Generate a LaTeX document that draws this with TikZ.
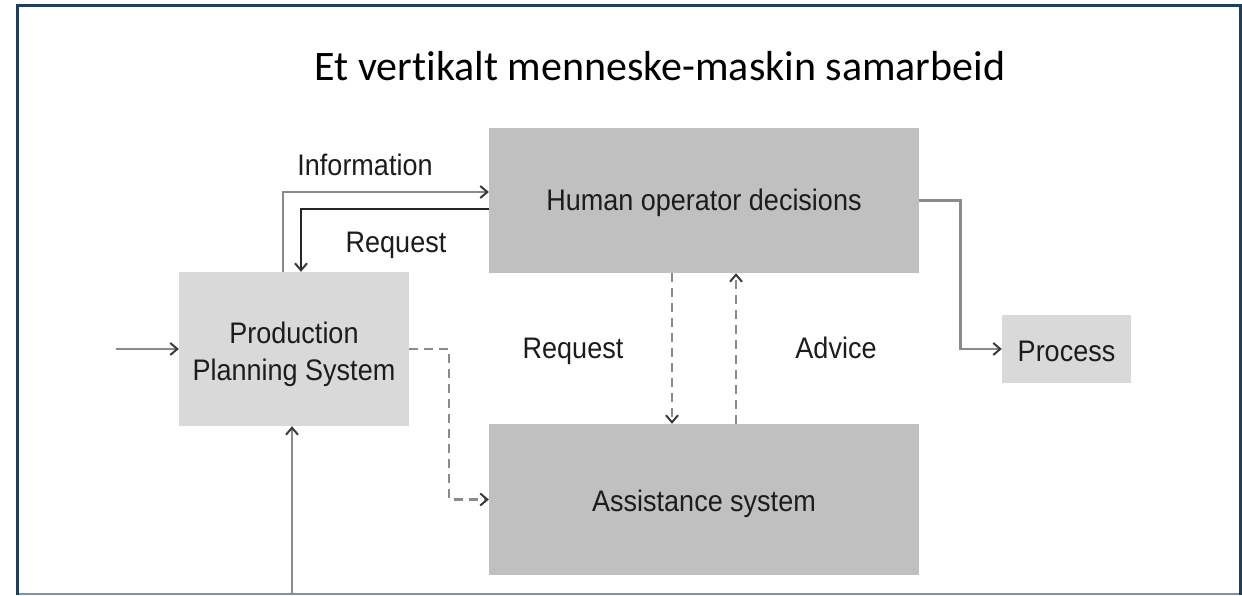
\documentclass[tikz,border=0pt]{standalone}
\usepackage{fontspec}
\setmainfont{Liberation Sans}
\newfontfamily\titlefont[Ligatures=NoCommon]{Carlito}
\usetikzlibrary{arrows.meta}

\definecolor{frameblue}{HTML}{1F3D5C}
\definecolor{framelight}{HTML}{7C93AA}
\definecolor{darkbox}{HTML}{C0C0C0}
\definecolor{lightbox}{HTML}{D9D9D9}
\definecolor{linegray}{HTML}{8A8A8A}
\definecolor{tipgray}{HTML}{3A3A3A}
\definecolor{labeltext}{HTML}{1C1C1C}

% labels are set slightly taller than the nominal Arial shape
\newcommand{\tall}[1]{\scalebox{1}[1.1]{#1}}

\tikzset{
  x=1pt, y=-1pt,
  lbl/.style={font=\fontsize{27}{37}\selectfont, text=labeltext, inner sep=0pt},
  blockbox/.style={lbl, draw=none, inner sep=0pt, align=center,
    text height=24pt, text depth=0pt},
  darkblock/.style={blockbox, fill=darkbox},
  lightblock/.style={blockbox, fill=lightbox},
  tip/.style={-{Straight Barb[length=7pt,width=12pt,line width=2pt,color=tipgray]}},
  flow/.style={draw=linegray, line width=2.6pt, tip},
  flowdark/.style={draw=black!85, line width=2.7pt, tip},
  dflow/.style={draw=linegray, line width=2.3pt, dash pattern=on 9pt off 6pt, tip},
}

\begin{document}
\begin{tikzpicture}
  \useasboundingbox (0,0) rectangle (1242,595);
  \fill[white] (0,0) rectangle (1242,595);

  % outer frame
  \draw[framelight, line width=1.6pt] (17,594) -- (1240,594);
  \draw[frameblue, line width=3pt] (17,595) -- (17,5) -- (1240,5) -- (1240,595);

  % title
  \node[font=\titlefont\fontsize{42}{50}\selectfont, anchor=base, inner sep=0pt] (title)
    at (660,80) {Et vertikalt menneske-maskin samarbeid};

  % blocks
  \node[darkblock, minimum width=430pt, minimum height=145pt,
        text height=22pt, text depth=2pt] (hod)
    at (704,200.5) {\tall{Human operator decisions}};
  \node[darkblock, minimum width=430pt, minimum height=151pt] (asst)
    at (704,499.5) {\tall{Assistance system}};
  \node[lightblock, minimum width=230pt, minimum height=154pt,
        text height=62pt] (pps)
    at (294,349) {\tall{Production}\\\tall{Planning System}};
  \node[lightblock, minimum width=129pt, minimum height=68pt] (proc)
    at (1066.5,349) {\tall{Process}};

  % free ends
  \coordinate (inlet) at (116,349);
  \coordinate (feed) at (292,595);

  % connectors
  \draw[flow] ([xshift=-11pt]pps.north) |- ([yshift=8.5pt]hod.west);
  \draw[flowdark] ([yshift=-8.5pt]hod.west) -| ([xshift=7pt]pps.north);
  \draw[flow] (inlet) -- (pps.west);
  \draw[flow] (feed) -- (pps.south -| feed);
  \draw[flow] (hod.east) -- ++(41,0) |- (proc.west);
  \draw[dflow] (pps.east) -- ++(40,0) |- (asst.west);
  \draw[dflow] ([xshift=-32pt]hod.south) -- ([xshift=-32pt]asst.north);
  \draw[dflow] ([xshift=32pt]asst.north) -- ([xshift=32pt]hod.south);

  % connector labels
  \node[lbl, anchor=base] (linfo) at (365,175) {\tall{Information}};
  \node[lbl, anchor=base] (lreq1) at (396,252) {\tall{Request}};
  \node[lbl, anchor=base] (lreq2) at (573,358) {\tall{Request}};
  \node[lbl, anchor=base] (ladv) at (836,358) {\tall{Advice}};
\end{tikzpicture}
\end{document}
